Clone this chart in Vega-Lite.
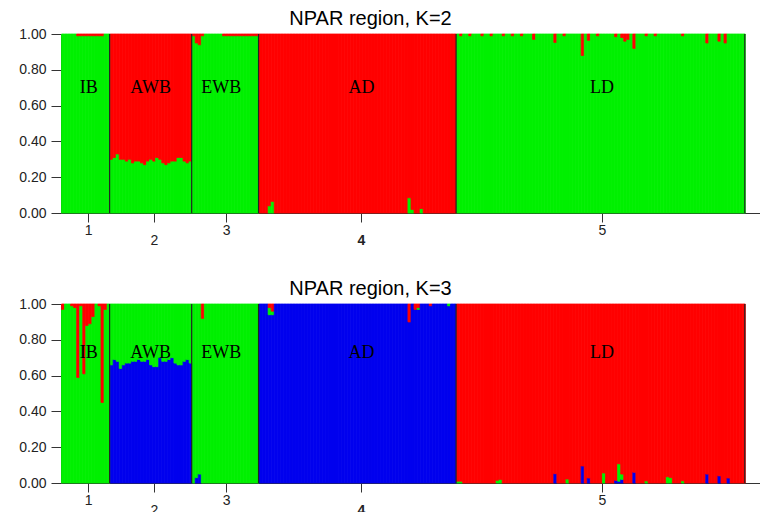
{
  "$schema": "https://vega.github.io/schema/vega-lite/v6.json",
  "padding": {"left": 18, "top": 9, "right": 0, "bottom": 0},
  "background": "white",
  "config": {
    "view": {"stroke": null},
    "font": "Liberation Sans",
    "concat": {"spacing": 32},
    "axis": {"grid": false, "domainColor": "#333", "tickColor": "#333", "labelColor": "#222", "labelFont": "Liberation Sans", "labelFontSize": 14, "title": null, "labelOverlap": false}
  },
  "datasets": {
    "pops": [
      {"p": 1, "name": "IB", "mid": 9.1, "end": 16},
      {"p": 2, "name": "AWB", "mid": 29.5, "end": 43},
      {"p": 3, "name": "EWB", "mid": 52.7, "end": 65},
      {"p": 4, "name": "AD", "mid": 98.9, "end": 130},
      {"p": 5, "name": "LD", "mid": 178, "end": 225}
    ],
    "ind": [
      {"i":0,"p":1,"a":1,"b":0,"c":0,"d":0.97,"e":0.03},
      {"i":1,"p":1,"a":1,"b":0,"c":0,"d":1,"e":0},
      {"i":2,"p":1,"a":1,"b":0,"c":0,"d":1,"e":0},
      {"i":3,"p":1,"a":1,"b":0,"c":0,"d":0.99,"e":0.01},
      {"i":4,"p":1,"a":1,"b":0,"c":0,"d":0.98,"e":0.02},
      {"i":5,"p":1,"a":0.99,"b":0.01,"c":0,"d":0.59,"e":0.41},
      {"i":6,"p":1,"a":0.99,"b":0.01,"c":0,"d":0.99,"e":0.01},
      {"i":7,"p":1,"a":0.99,"b":0.01,"c":0,"d":0.61,"e":0.39},
      {"i":8,"p":1,"a":0.99,"b":0.01,"c":0,"d":0.88,"e":0.12},
      {"i":9,"p":1,"a":0.99,"b":0.01,"c":0,"d":0.89,"e":0.11},
      {"i":10,"p":1,"a":0.99,"b":0.01,"c":0,"d":0.93,"e":0.07},
      {"i":11,"p":1,"a":0.99,"b":0.01,"c":0,"d":1,"e":0},
      {"i":12,"p":1,"a":0.99,"b":0.01,"c":0,"d":0.99,"e":0.01},
      {"i":13,"p":1,"a":0.99,"b":0.01,"c":0,"d":0.45,"e":0.55},
      {"i":14,"p":1,"a":1,"b":0,"c":0,"d":0.97,"e":0.03},
      {"i":15,"p":1,"a":1,"b":0,"c":0,"d":1,"e":0},
      {"i":16,"p":2,"a":0.30,"b":0.70,"c":0.66,"d":0.34,"e":0},
      {"i":17,"p":2,"a":0.31,"b":0.69,"c":0.69,"d":0.31,"e":0},
      {"i":18,"p":2,"a":0.33,"b":0.67,"c":0.68,"d":0.32,"e":0},
      {"i":19,"p":2,"a":0.30,"b":0.70,"c":0.64,"d":0.36,"e":0},
      {"i":20,"p":2,"a":0.30,"b":0.70,"c":0.66,"d":0.34,"e":0},
      {"i":21,"p":2,"a":0.29,"b":0.71,"c":0.67,"d":0.33,"e":0},
      {"i":22,"p":2,"a":0.30,"b":0.70,"c":0.67,"d":0.33,"e":0},
      {"i":23,"p":2,"a":0.28,"b":0.72,"c":0.68,"d":0.32,"e":0},
      {"i":24,"p":2,"a":0.29,"b":0.71,"c":0.68,"d":0.32,"e":0},
      {"i":25,"p":2,"a":0.29,"b":0.71,"c":0.69,"d":0.31,"e":0},
      {"i":26,"p":2,"a":0.28,"b":0.72,"c":0.68,"d":0.32,"e":0},
      {"i":27,"p":2,"a":0.27,"b":0.73,"c":0.68,"d":0.32,"e":0},
      {"i":28,"p":2,"a":0.29,"b":0.71,"c":0.69,"d":0.31,"e":0},
      {"i":29,"p":2,"a":0.30,"b":0.70,"c":0.66,"d":0.34,"e":0},
      {"i":30,"p":2,"a":0.29,"b":0.71,"c":0.65,"d":0.35,"e":0},
      {"i":31,"p":2,"a":0.31,"b":0.69,"c":0.65,"d":0.35,"e":0},
      {"i":32,"p":2,"a":0.30,"b":0.70,"c":0.70,"d":0.30,"e":0},
      {"i":33,"p":2,"a":0.28,"b":0.72,"c":0.68,"d":0.32,"e":0},
      {"i":34,"p":2,"a":0.27,"b":0.73,"c":0.68,"d":0.32,"e":0},
      {"i":35,"p":2,"a":0.28,"b":0.72,"c":0.69,"d":0.31,"e":0},
      {"i":36,"p":2,"a":0.29,"b":0.71,"c":0.70,"d":0.30,"e":0},
      {"i":37,"p":2,"a":0.29,"b":0.71,"c":0.67,"d":0.33,"e":0},
      {"i":38,"p":2,"a":0.31,"b":0.69,"c":0.66,"d":0.34,"e":0},
      {"i":39,"p":2,"a":0.31,"b":0.69,"c":0.66,"d":0.34,"e":0},
      {"i":40,"p":2,"a":0.29,"b":0.71,"c":0.68,"d":0.32,"e":0},
      {"i":41,"p":2,"a":0.28,"b":0.72,"c":0.69,"d":0.31,"e":0},
      {"i":42,"p":2,"a":0.29,"b":0.71,"c":0.67,"d":0.33,"e":0},
      {"i":43,"p":3,"a":0.99,"b":0.01,"c":0,"d":1,"e":0},
      {"i":44,"p":3,"a":0.95,"b":0.05,"c":0.03,"d":0.97,"e":0},
      {"i":45,"p":3,"a":0.94,"b":0.06,"c":0.05,"d":0.95,"e":0},
      {"i":46,"p":3,"a":0.99,"b":0.01,"c":0,"d":0.92,"e":0.08},
      {"i":47,"p":3,"a":1,"b":0,"c":0,"d":1,"e":0},
      {"i":48,"p":3,"a":1,"b":0,"c":0,"d":1,"e":0},
      {"i":49,"p":3,"a":1,"b":0,"c":0,"d":1,"e":0},
      {"i":50,"p":3,"a":1,"b":0,"c":0,"d":1,"e":0},
      {"i":51,"p":3,"a":1,"b":0,"c":0,"d":1,"e":0},
      {"i":52,"p":3,"a":1,"b":0,"c":0,"d":1,"e":0},
      {"i":53,"p":3,"a":0.99,"b":0.01,"c":0,"d":1,"e":0},
      {"i":54,"p":3,"a":0.99,"b":0.01,"c":0,"d":1,"e":0},
      {"i":55,"p":3,"a":0.99,"b":0.01,"c":0,"d":1,"e":0},
      {"i":56,"p":3,"a":0.99,"b":0.01,"c":0,"d":1,"e":0},
      {"i":57,"p":3,"a":0.99,"b":0.01,"c":0,"d":1,"e":0},
      {"i":58,"p":3,"a":0.99,"b":0.01,"c":0,"d":1,"e":0},
      {"i":59,"p":3,"a":0.99,"b":0.01,"c":0,"d":1,"e":0},
      {"i":60,"p":3,"a":0.99,"b":0.01,"c":0,"d":1,"e":0},
      {"i":61,"p":3,"a":0.99,"b":0.01,"c":0,"d":1,"e":0},
      {"i":62,"p":3,"a":0.99,"b":0.01,"c":0,"d":1,"e":0},
      {"i":63,"p":3,"a":0.99,"b":0.01,"c":0,"d":1,"e":0},
      {"i":64,"p":3,"a":0.99,"b":0.01,"c":0,"d":1,"e":0},
      {"i":65,"p":4,"a":0,"b":1,"c":1,"d":0,"e":0},
      {"i":66,"p":4,"a":0,"b":1,"c":1,"d":0,"e":0},
      {"i":67,"p":4,"a":0,"b":1,"c":1,"d":0,"e":0},
      {"i":68,"p":4,"a":0.04,"b":0.96,"c":0.94,"d":0.04,"e":0.02},
      {"i":69,"p":4,"a":0.065,"b":0.935,"c":0.94,"d":0.02,"e":0.04},
      {"i":70,"p":4,"a":0,"b":1,"c":1,"d":0,"e":0},
      {"i":71,"p":4,"a":0,"b":1,"c":1,"d":0,"e":0},
      {"i":72,"p":4,"a":0,"b":1,"c":1,"d":0,"e":0},
      {"i":73,"p":4,"a":0,"b":1,"c":1,"d":0,"e":0},
      {"i":74,"p":4,"a":0,"b":1,"c":1,"d":0,"e":0},
      {"i":75,"p":4,"a":0,"b":1,"c":1,"d":0,"e":0},
      {"i":76,"p":4,"a":0,"b":1,"c":1,"d":0,"e":0},
      {"i":77,"p":4,"a":0,"b":1,"c":1,"d":0,"e":0},
      {"i":78,"p":4,"a":0,"b":1,"c":1,"d":0,"e":0},
      {"i":79,"p":4,"a":0,"b":1,"c":1,"d":0,"e":0},
      {"i":80,"p":4,"a":0,"b":1,"c":1,"d":0,"e":0},
      {"i":81,"p":4,"a":0,"b":1,"c":1,"d":0,"e":0},
      {"i":82,"p":4,"a":0,"b":1,"c":1,"d":0,"e":0},
      {"i":83,"p":4,"a":0,"b":1,"c":1,"d":0,"e":0},
      {"i":84,"p":4,"a":0,"b":1,"c":1,"d":0,"e":0},
      {"i":85,"p":4,"a":0,"b":1,"c":1,"d":0,"e":0},
      {"i":86,"p":4,"a":0,"b":1,"c":1,"d":0,"e":0},
      {"i":87,"p":4,"a":0,"b":1,"c":1,"d":0,"e":0},
      {"i":88,"p":4,"a":0,"b":1,"c":1,"d":0,"e":0},
      {"i":89,"p":4,"a":0,"b":1,"c":1,"d":0,"e":0},
      {"i":90,"p":4,"a":0,"b":1,"c":1,"d":0,"e":0},
      {"i":91,"p":4,"a":0,"b":1,"c":1,"d":0,"e":0},
      {"i":92,"p":4,"a":0,"b":1,"c":1,"d":0,"e":0},
      {"i":93,"p":4,"a":0,"b":1,"c":1,"d":0,"e":0},
      {"i":94,"p":4,"a":0,"b":1,"c":1,"d":0,"e":0},
      {"i":95,"p":4,"a":0,"b":1,"c":1,"d":0,"e":0},
      {"i":96,"p":4,"a":0,"b":1,"c":1,"d":0,"e":0},
      {"i":97,"p":4,"a":0,"b":1,"c":1,"d":0,"e":0},
      {"i":98,"p":4,"a":0,"b":1,"c":1,"d":0,"e":0},
      {"i":99,"p":4,"a":0,"b":1,"c":1,"d":0,"e":0},
      {"i":100,"p":4,"a":0,"b":1,"c":1,"d":0,"e":0},
      {"i":101,"p":4,"a":0,"b":1,"c":1,"d":0,"e":0},
      {"i":102,"p":4,"a":0,"b":1,"c":1,"d":0,"e":0},
      {"i":103,"p":4,"a":0,"b":1,"c":1,"d":0,"e":0},
      {"i":104,"p":4,"a":0,"b":1,"c":1,"d":0,"e":0},
      {"i":105,"p":4,"a":0,"b":1,"c":1,"d":0,"e":0},
      {"i":106,"p":4,"a":0,"b":1,"c":1,"d":0,"e":0},
      {"i":107,"p":4,"a":0,"b":1,"c":1,"d":0,"e":0},
      {"i":108,"p":4,"a":0,"b":1,"c":1,"d":0,"e":0},
      {"i":109,"p":4,"a":0,"b":1,"c":1,"d":0,"e":0},
      {"i":110,"p":4,"a":0,"b":1,"c":1,"d":0,"e":0},
      {"i":111,"p":4,"a":0,"b":1,"c":1,"d":0,"e":0},
      {"i":112,"p":4,"a":0,"b":1,"c":1,"d":0,"e":0},
      {"i":113,"p":4,"a":0,"b":1,"c":1,"d":0,"e":0},
      {"i":114,"p":4,"a":0.085,"b":0.915,"c":0.90,"d":0,"e":0.10},
      {"i":115,"p":4,"a":0.02,"b":0.98,"c":1,"d":0,"e":0},
      {"i":116,"p":4,"a":0,"b":1,"c":0.97,"d":0,"e":0.03},
      {"i":117,"p":4,"a":0,"b":1,"c":0.97,"d":0.01,"e":0.02},
      {"i":118,"p":4,"a":0.025,"b":0.975,"c":1,"d":0,"e":0},
      {"i":119,"p":4,"a":0,"b":1,"c":1,"d":0,"e":0},
      {"i":120,"p":4,"a":0,"b":1,"c":1,"d":0,"e":0},
      {"i":121,"p":4,"a":0,"b":1,"c":0.99,"d":0,"e":0.01},
      {"i":122,"p":4,"a":0,"b":1,"c":1,"d":0,"e":0},
      {"i":123,"p":4,"a":0,"b":1,"c":1,"d":0,"e":0},
      {"i":124,"p":4,"a":0,"b":1,"c":1,"d":0,"e":0},
      {"i":125,"p":4,"a":0,"b":1,"c":1,"d":0,"e":0},
      {"i":126,"p":4,"a":0,"b":1,"c":1,"d":0,"e":0},
      {"i":127,"p":4,"a":0,"b":1,"c":0.99,"d":0.01,"e":0},
      {"i":128,"p":4,"a":0,"b":1,"c":1,"d":0,"e":0},
      {"i":129,"p":4,"a":0,"b":1,"c":1,"d":0,"e":0},
      {"i":130,"p":5,"a":1,"b":0,"c":0,"d":0.01,"e":0.99},
      {"i":131,"p":5,"a":0.99,"b":0.01,"c":0,"d":0.01,"e":0.99},
      {"i":132,"p":5,"a":1,"b":0,"c":0,"d":0,"e":1},
      {"i":133,"p":5,"a":1,"b":0,"c":0,"d":0,"e":1},
      {"i":134,"p":5,"a":0.99,"b":0.01,"c":0,"d":0,"e":1},
      {"i":135,"p":5,"a":1,"b":0,"c":0,"d":0,"e":1},
      {"i":136,"p":5,"a":1,"b":0,"c":0,"d":0,"e":1},
      {"i":137,"p":5,"a":1,"b":0,"c":0,"d":0,"e":1},
      {"i":138,"p":5,"a":0.99,"b":0.01,"c":0,"d":0,"e":1},
      {"i":139,"p":5,"a":1,"b":0,"c":0,"d":0,"e":1},
      {"i":140,"p":5,"a":1,"b":0,"c":0,"d":0,"e":1},
      {"i":141,"p":5,"a":0.99,"b":0.01,"c":0,"d":0,"e":1},
      {"i":142,"p":5,"a":1,"b":0,"c":0,"d":0,"e":1},
      {"i":143,"p":5,"a":1,"b":0,"c":0,"d":0.015,"e":0.985},
      {"i":144,"p":5,"a":1,"b":0,"c":0,"d":0.02,"e":0.98},
      {"i":145,"p":5,"a":0.99,"b":0.01,"c":0,"d":0,"e":1},
      {"i":146,"p":5,"a":1,"b":0,"c":0,"d":0,"e":1},
      {"i":147,"p":5,"a":1,"b":0,"c":0,"d":0,"e":1},
      {"i":148,"p":5,"a":0.99,"b":0.01,"c":0,"d":0,"e":1},
      {"i":149,"p":5,"a":1,"b":0,"c":0,"d":0,"e":1},
      {"i":150,"p":5,"a":1,"b":0,"c":0,"d":0,"e":1},
      {"i":151,"p":5,"a":0.99,"b":0.01,"c":0,"d":0,"e":1},
      {"i":152,"p":5,"a":1,"b":0,"c":0,"d":0,"e":1},
      {"i":153,"p":5,"a":1,"b":0,"c":0,"d":0,"e":1},
      {"i":154,"p":5,"a":1,"b":0,"c":0,"d":0,"e":1},
      {"i":155,"p":5,"a":0.97,"b":0.03,"c":0,"d":0,"e":1},
      {"i":156,"p":5,"a":1,"b":0,"c":0,"d":0,"e":1},
      {"i":157,"p":5,"a":1,"b":0,"c":0,"d":0,"e":1},
      {"i":158,"p":5,"a":1,"b":0,"c":0,"d":0,"e":1},
      {"i":159,"p":5,"a":1,"b":0,"c":0,"d":0,"e":1},
      {"i":160,"p":5,"a":1,"b":0,"c":0,"d":0,"e":1},
      {"i":161,"p":5,"a":1,"b":0,"c":0,"d":0,"e":1},
      {"i":162,"p":5,"a":0.953,"b":0.047,"c":0.052,"d":0,"e":0.948},
      {"i":163,"p":5,"a":1,"b":0,"c":0,"d":0,"e":1},
      {"i":164,"p":5,"a":1,"b":0,"c":0,"d":0,"e":1},
      {"i":165,"p":5,"a":0.99,"b":0.01,"c":0,"d":0,"e":1},
      {"i":166,"p":5,"a":1,"b":0,"c":0,"d":0.022,"e":0.978},
      {"i":167,"p":5,"a":1,"b":0,"c":0,"d":0,"e":1},
      {"i":168,"p":5,"a":1,"b":0,"c":0,"d":0,"e":1},
      {"i":169,"p":5,"a":1,"b":0,"c":0,"d":0,"e":1},
      {"i":170,"p":5,"a":1,"b":0,"c":0,"d":0,"e":1},
      {"i":171,"p":5,"a":0.88,"b":0.12,"c":0.095,"d":0,"e":0.905},
      {"i":172,"p":5,"a":1,"b":0,"c":0,"d":0,"e":1},
      {"i":173,"p":5,"a":0.965,"b":0.035,"c":0.028,"d":0,"e":0.972},
      {"i":174,"p":5,"a":1,"b":0,"c":0,"d":0,"e":1},
      {"i":175,"p":5,"a":1,"b":0,"c":0,"d":0,"e":1},
      {"i":176,"p":5,"a":0.99,"b":0.01,"c":0,"d":0,"e":1},
      {"i":177,"p":5,"a":1,"b":0,"c":0,"d":0,"e":1},
      {"i":178,"p":5,"a":1,"b":0,"c":0,"d":0.056,"e":0.944},
      {"i":179,"p":5,"a":1,"b":0,"c":0,"d":0,"e":1},
      {"i":180,"p":5,"a":1,"b":0,"c":0,"d":0,"e":1},
      {"i":181,"p":5,"a":1,"b":0,"c":0,"d":0,"e":1},
      {"i":182,"p":5,"a":0.985,"b":0.015,"c":0.015,"d":0,"e":0.985},
      {"i":183,"p":5,"a":1,"b":0,"c":0.01,"d":0.097,"e":0.893},
      {"i":184,"p":5,"a":0.98,"b":0.02,"c":0.02,"d":0.03,"e":0.95},
      {"i":185,"p":5,"a":0.96,"b":0.04,"c":0,"d":0,"e":1},
      {"i":186,"p":5,"a":0.97,"b":0.03,"c":0,"d":0,"e":1},
      {"i":187,"p":5,"a":1,"b":0,"c":0,"d":0,"e":1},
      {"i":188,"p":5,"a":0.92,"b":0.08,"c":0.06,"d":0,"e":0.94},
      {"i":189,"p":5,"a":1,"b":0,"c":0,"d":0,"e":1},
      {"i":190,"p":5,"a":1,"b":0,"c":0,"d":0,"e":1},
      {"i":191,"p":5,"a":1,"b":0,"c":0,"d":0,"e":1},
      {"i":192,"p":5,"a":0.99,"b":0.01,"c":0,"d":0.012,"e":0.988},
      {"i":193,"p":5,"a":1,"b":0,"c":0,"d":0,"e":1},
      {"i":194,"p":5,"a":1,"b":0,"c":0,"d":0,"e":1},
      {"i":195,"p":5,"a":0.99,"b":0.01,"c":0,"d":0,"e":1},
      {"i":196,"p":5,"a":1,"b":0,"c":0,"d":0,"e":1},
      {"i":197,"p":5,"a":1,"b":0,"c":0,"d":0,"e":1},
      {"i":198,"p":5,"a":1,"b":0,"c":0,"d":0,"e":1},
      {"i":199,"p":5,"a":1,"b":0,"c":0,"d":0.035,"e":0.965},
      {"i":200,"p":5,"a":1,"b":0,"c":0,"d":0.03,"e":0.97},
      {"i":201,"p":5,"a":1,"b":0,"c":0,"d":0,"e":1},
      {"i":202,"p":5,"a":1,"b":0,"c":0,"d":0,"e":1},
      {"i":203,"p":5,"a":1,"b":0,"c":0,"d":0,"e":1},
      {"i":204,"p":5,"a":0.99,"b":0.01,"c":0,"d":0.012,"e":0.988},
      {"i":205,"p":5,"a":1,"b":0,"c":0,"d":0,"e":1},
      {"i":206,"p":5,"a":1,"b":0,"c":0,"d":0,"e":1},
      {"i":207,"p":5,"a":1,"b":0,"c":0,"d":0,"e":1},
      {"i":208,"p":5,"a":1,"b":0,"c":0,"d":0,"e":1},
      {"i":209,"p":5,"a":1,"b":0,"c":0,"d":0,"e":1},
      {"i":210,"p":5,"a":1,"b":0,"c":0,"d":0,"e":1},
      {"i":211,"p":5,"a":1,"b":0,"c":0,"d":0,"e":1},
      {"i":212,"p":5,"a":0.95,"b":0.05,"c":0.05,"d":0,"e":0.95},
      {"i":213,"p":5,"a":1,"b":0,"c":0,"d":0,"e":1},
      {"i":214,"p":5,"a":1,"b":0,"c":0,"d":0,"e":1},
      {"i":215,"p":5,"a":1,"b":0,"c":0,"d":0,"e":1},
      {"i":216,"p":5,"a":0.96,"b":0.04,"c":0.04,"d":0,"e":0.96},
      {"i":217,"p":5,"a":1,"b":0,"c":0,"d":0,"e":1},
      {"i":218,"p":5,"a":0.95,"b":0.05,"c":0,"d":0,"e":1},
      {"i":219,"p":5,"a":1,"b":0,"c":0.028,"d":0,"e":0.972},
      {"i":220,"p":5,"a":1,"b":0,"c":0,"d":0,"e":1},
      {"i":221,"p":5,"a":1,"b":0,"c":0,"d":0,"e":1},
      {"i":222,"p":5,"a":1,"b":0,"c":0,"d":0,"e":1},
      {"i":223,"p":5,"a":1,"b":0,"c":0,"d":0,"e":1},
      {"i":224,"p":5,"a":1,"b":0,"c":0,"d":0,"e":1}
    ]
  },
  "vconcat": [
    {
      "width": 699,
      "height": 179,
      "title": {"text": "NPAR region, K=2", "fontSize": 20, "fontWeight": "normal", "font": "Liberation Sans", "color": "#000", "anchor": "middle", "dx": -40, "offset": -2},
      "layer": [
        {
          "data": {"name": "ind"},
          "transform": [{"fold": ["a", "b"], "as": ["k", "v"]}, {"filter": "datum.v > 0"}],
          "mark": {"type": "bar", "binSpacing": 0, "strokeWidth": 0.8},
          "encoding": {
            "x": {"field": "i", "type": "quantitative", "bin": {"step": 1, "extent": [0, 225]}, "scale": {"domain": [0, 230], "nice": false, "zero": false},
              "axis": {"values": [8.9, 30.6, 54.3, 98.7, 178], "labelExpr": "datum.value < 20 ? '1' : datum.value < 40 ? '2' : datum.value < 70 ? '3' : datum.value < 120 ? '4' : '5'", "tickSize": 9, "labelPadding": {"condition": {"test": "(datum.value > 20 && datum.value < 40) || (datum.value > 90 && datum.value < 120)", "value": 11}, "value": 1}, "labelFontWeight": {"condition": {"test": "datum.value > 90 && datum.value < 120", "value": "bold"}, "value": "normal"}, "labelFlush": false, "labelOverlap": false}},
            "y": {"field": "v", "type": "quantitative", "stack": "zero", "scale": {"domain": [0, 1], "nice": false}, "axis": {"values": [0, 0.2, 0.4, 0.6, 0.8, 1], "format": ".2f", "tickSize": 10, "labelPadding": 5, "labelOverlap": false}},
            "color": {"field": "k", "type": "nominal", "scale": {"domain": ["a", "b", "c", "d", "e"], "range": ["#00f000", "#ff0000", "#0000ee", "#00f000", "#ff0000"]}, "legend": null},
            "stroke": {"field": "k", "type": "nominal", "scale": {"domain": ["a", "b", "c", "d", "e"], "range": ["#00f000", "#ff0000", "#0000ee", "#00f000", "#ff0000"]}, "legend": null},
            "order": {"field": "k", "type": "nominal", "sort": "ascending"}
          }
        },
        {
          "data": {"name": "pops"},
          "mark": {"type": "rule", "color": "#222", "strokeWidth": 1.2},
          "encoding": {"x": {"field": "end", "type": "quantitative"}, "y": {"datum": 0, "type": "quantitative", "axis": {"values": [0, 0.2, 0.4, 0.6, 0.8, 1], "format": ".2f", "tickSize": 10, "labelPadding": 5, "labelOverlap": false}}, "y2": {"datum": 1}}
        },
        {
          "data": {"name": "pops"},
          "mark": {"type": "text", "font": "Liberation Serif", "fontSize": 18, "baseline": "middle", "color": "#000"},
          "encoding": {"x": {"field": "mid", "type": "quantitative"}, "y": {"datum": 0.70, "type": "quantitative", "axis": {"values": [0, 0.2, 0.4, 0.6, 0.8, 1], "format": ".2f", "tickSize": 10, "labelPadding": 5, "labelOverlap": false}}, "text": {"field": "name"}}
        }
      ]
    },
    {
      "width": 699,
      "height": 179,
      "title": {"text": "NPAR region, K=3", "fontSize": 20, "fontWeight": "normal", "font": "Liberation Sans", "color": "#000", "anchor": "middle", "dx": -40, "offset": -2},
      "layer": [
        {
          "data": {"name": "ind"},
          "transform": [{"fold": ["c", "d", "e"], "as": ["k", "v"]}, {"filter": "datum.v > 0"}],
          "mark": {"type": "bar", "binSpacing": 0, "strokeWidth": 0.8},
          "encoding": {
            "x": {"field": "i", "type": "quantitative", "bin": {"step": 1, "extent": [0, 225]}, "scale": {"domain": [0, 230], "nice": false, "zero": false},
              "axis": {"values": [8.9, 30.6, 54.3, 98.7, 178], "labelExpr": "datum.value < 20 ? '1' : datum.value < 40 ? '2' : datum.value < 70 ? '3' : datum.value < 120 ? '4' : '5'", "tickSize": 9, "labelPadding": {"condition": {"test": "(datum.value > 20 && datum.value < 40) || (datum.value > 90 && datum.value < 120)", "value": 11}, "value": 1}, "labelFontWeight": {"condition": {"test": "datum.value > 90 && datum.value < 120", "value": "bold"}, "value": "normal"}, "labelFlush": false, "labelOverlap": false}},
            "y": {"field": "v", "type": "quantitative", "stack": "zero", "scale": {"domain": [0, 1], "nice": false}, "axis": {"values": [0, 0.2, 0.4, 0.6, 0.8, 1], "format": ".2f", "tickSize": 10, "labelPadding": 5, "labelOverlap": false}},
            "color": {"field": "k", "type": "nominal", "scale": {"domain": ["a", "b", "c", "d", "e"], "range": ["#00f000", "#ff0000", "#0000ee", "#00f000", "#ff0000"]}, "legend": null},
            "stroke": {"field": "k", "type": "nominal", "scale": {"domain": ["a", "b", "c", "d", "e"], "range": ["#00f000", "#ff0000", "#0000ee", "#00f000", "#ff0000"]}, "legend": null},
            "order": {"field": "k", "type": "nominal", "sort": "ascending"}
          }
        },
        {
          "data": {"name": "pops"},
          "mark": {"type": "rule", "color": "#222", "strokeWidth": 1.2},
          "encoding": {"x": {"field": "end", "type": "quantitative"}, "y": {"datum": 0, "type": "quantitative", "axis": {"values": [0, 0.2, 0.4, 0.6, 0.8, 1], "format": ".2f", "tickSize": 10, "labelPadding": 5, "labelOverlap": false}}, "y2": {"datum": 1}}
        },
        {
          "data": {"name": "pops"},
          "mark": {"type": "text", "font": "Liberation Serif", "fontSize": 18, "baseline": "middle", "color": "#000"},
          "encoding": {"x": {"field": "mid", "type": "quantitative"}, "y": {"datum": 0.725, "type": "quantitative", "axis": {"values": [0, 0.2, 0.4, 0.6, 0.8, 1], "format": ".2f", "tickSize": 10, "labelPadding": 5, "labelOverlap": false}}, "text": {"field": "name"}}
        }
      ]
    }
  ]
}
